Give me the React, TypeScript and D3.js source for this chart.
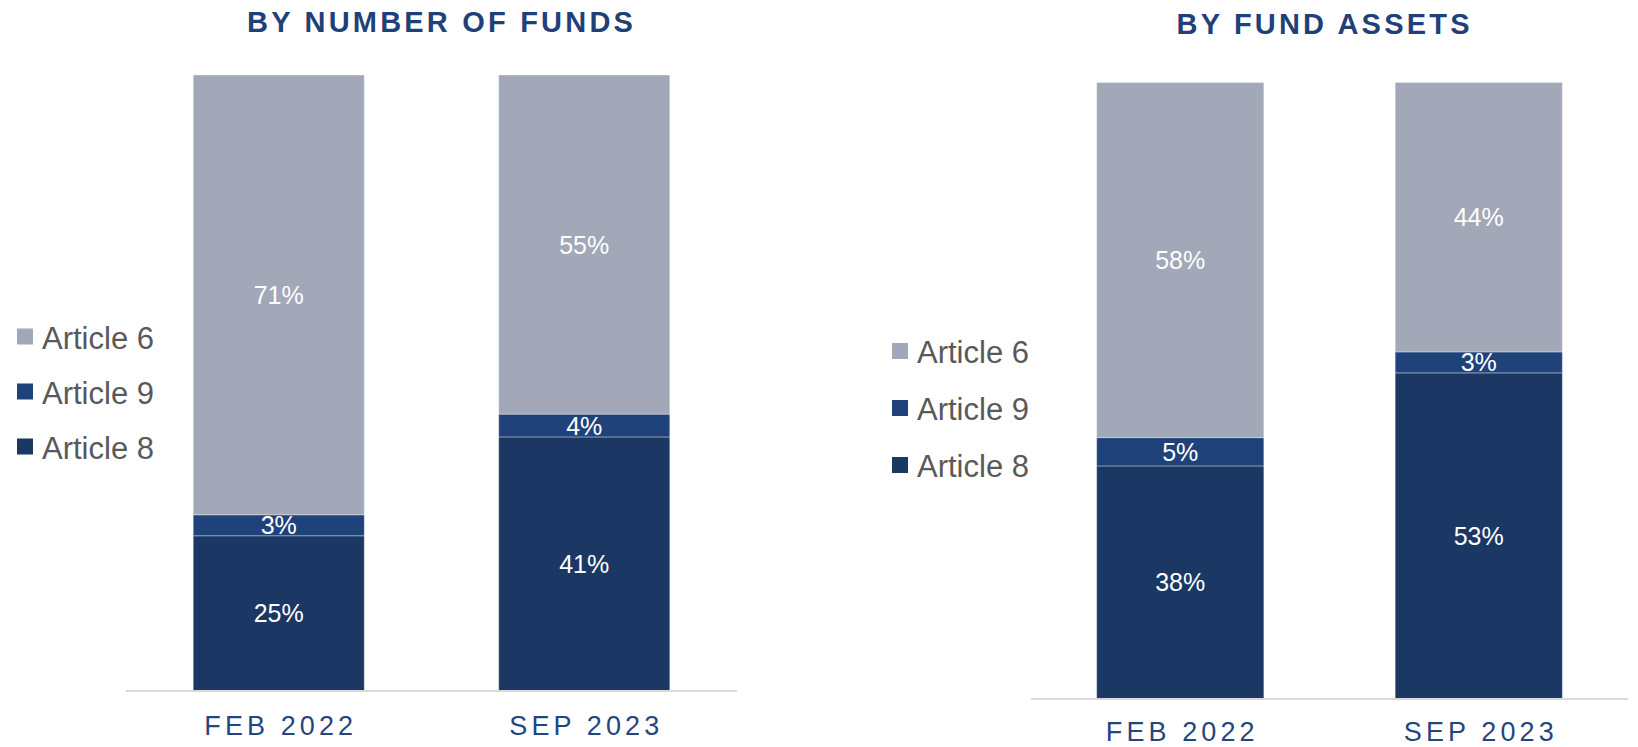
import React from "react";
import { scaleBand, scaleLinear, stack, stackOffsetExpand } from "d3";

const categories = ["FEB 2022", "SEP 2023"];
const seriesKeys = ["Article 8", "Article 9", "Article 6"];
const legendKeys = ["Article 6", "Article 9", "Article 8"];

// by number of funds (%)
const fundsArticle8 = [25.2, 41.2];
const fundsArticle9 = [3.4, 3.7];
const fundsArticle6 = [71.4, 55.0];

// by fund assets (%)
const assetsArticle8 = [37.8, 52.9];
const assetsArticle9 = [4.6, 3.4];
const assetsArticle6 = [57.6, 43.7];

const colors: Record<string, string> = {
  "Article 6": "#a2a8b7",
  "Article 9": "#20427a",
  "Article 8": "#1b3764",
};

const FONT = "'Liberation Sans', Arial, Helvetica, sans-serif";
const TITLE_COLOR = "#1f4178";
const AXIS_TEXT = "#24467f";
const LEGEND_TEXT = "#595959";

interface PanelProps {
  title: string;
  a8: number[];
  a9: number[];
  a6: number[];
  x0: number;
  x1: number;
  yTop: number;
  yBase: number;
  titleX: number;
  titleY: number;
  legendX: number;
  legendY: number;
  legendStep: number;
  tickY: number;
}

const Panel: React.FC<PanelProps> = ({
  title,
  a8,
  a9,
  a6,
  x0,
  x1,
  yTop,
  yBase,
  titleX,
  titleY,
  legendX,
  legendY,
  legendStep,
  tickY,
}) => {
  const rows = categories.map((c, i) => ({
    cat: c,
    "Article 8": a8[i],
    "Article 9": a9[i],
    "Article 6": a6[i],
  }));

  const series = stack<any>().keys(seriesKeys).offset(stackOffsetExpand)(rows);

  const x = scaleBand()
    .domain(categories)
    .range([x0, x1])
    .paddingInner(0.44)
    .paddingOuter(0.22);

  const y = scaleLinear().domain([0, 1]).range([yBase, yTop]);

  const titleLs = 3.2;
  const tickLs = 4.1;

  return (
    <g>
      <text
        x={titleX + titleLs / 2}
        y={titleY}
        textAnchor="middle"
        fontFamily={FONT}
        fontWeight="bold"
        fontSize={29}
        letterSpacing={titleLs}
        fill={TITLE_COLOR}
      >
        {title}
      </text>

      {series.map((s) => (
        <g key={s.key} fill={colors[s.key]}>
          {s.map((d, i) => (
            <rect
              key={i}
              x={x(categories[i])}
              y={y(d[1])}
              width={x.bandwidth()}
              height={y(d[0]) - y(d[1])}
              stroke="#ffffff"
              strokeOpacity={0.35}
              strokeWidth={1}
            />
          ))}
        </g>
      ))}

      {series.map((s) => (
        <g key={s.key + "-lbl"}>
          {s.map((d, i) => (
            <text
              key={i}
              x={(x(categories[i]) as number) + x.bandwidth() / 2}
              y={(y(d[0]) + y(d[1])) / 2 + 9}
              textAnchor="middle"
              fontFamily={FONT}
              fontSize={25}
              fill="#ffffff"
            >
              {Math.round((d.data as any)[s.key as string])}%
            </text>
          ))}
        </g>
      ))}

      <line x1={x0} x2={x1} y1={yBase} y2={yBase} stroke="#d9d9d9" strokeWidth={2} />

      {categories.map((c) => (
        <text
          key={c}
          x={(x(c) as number) + x.bandwidth() / 2 + tickLs / 2}
          y={tickY}
          textAnchor="middle"
          fontFamily={FONT}
          fontSize={27}
          letterSpacing={tickLs}
          fill={AXIS_TEXT}
        >
          {c}
        </text>
      ))}

      {legendKeys.map((k, i) => (
        <g key={k} transform={`translate(${legendX},${legendY + i * legendStep})`}>
          <rect x={0} y={-8} width={16} height={16} fill={colors[k]} />
          <text
            x={25}
            y={12}
            fontFamily={FONT}
            fontSize={31}
            fill={LEGEND_TEXT}
          >
            {k}
          </text>
        </g>
      ))}
    </g>
  );
};

export default function App() {
  return (
    <svg
      width={1638}
      height={747}
      style={{ position: "absolute", left: 0, top: 0, background: "#ffffff" }}
    >
      <Panel
        title="BY NUMBER OF FUNDS"
        a8={fundsArticle8}
        a9={fundsArticle9}
        a6={fundsArticle6}
        x0={126}
        x1={737}
        yTop={75}
        yBase={691}
        titleX={440}
        titleY={31.5}
        legendX={17}
        legendY={336.5}
        legendStep={55}
        tickY={735}
      />
      <Panel
        title="BY FUND ASSETS"
        a8={assetsArticle8}
        a9={assetsArticle9}
        a6={assetsArticle6}
        x0={1031}
        x1={1628}
        yTop={82.5}
        yBase={699}
        titleX={1323}
        titleY={34}
        legendX={892}
        legendY={351}
        legendStep={57}
        tickY={741}
      />
    </svg>
  );
}
